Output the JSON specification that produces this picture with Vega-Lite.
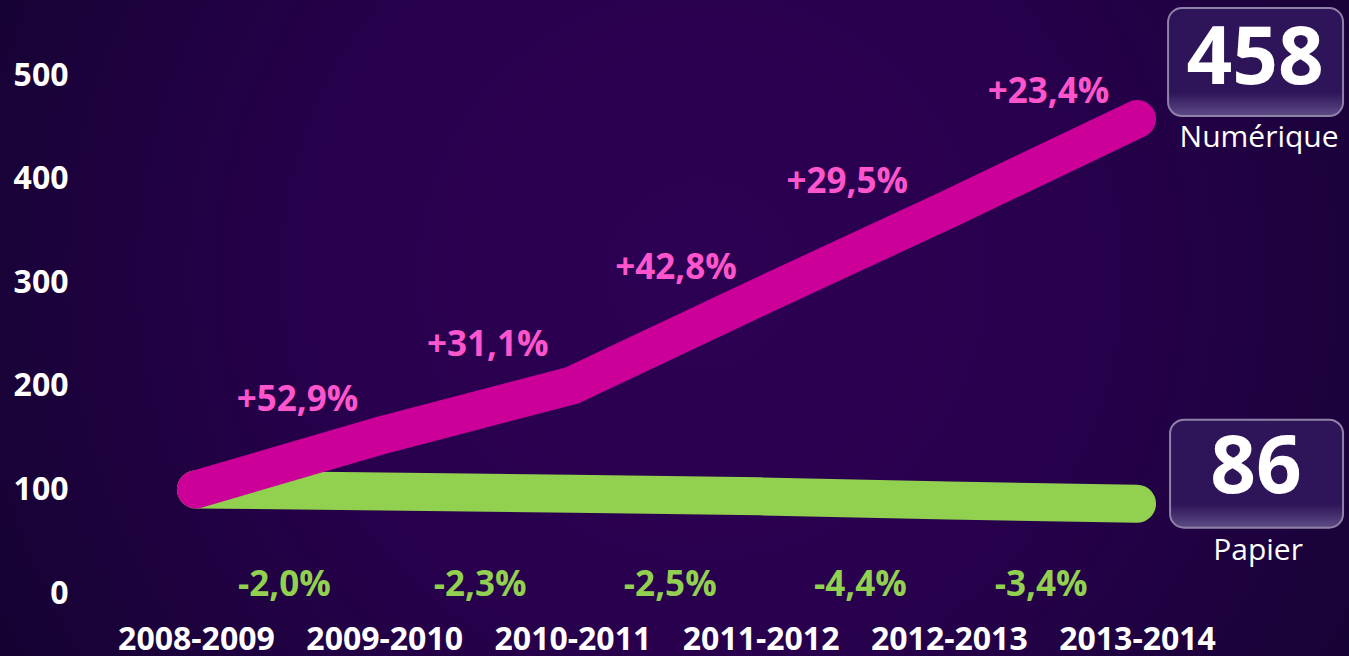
{
  "$schema": "https://vega.github.io/schema/vega-lite/v6.json",
  "width": 1349,
  "height": 656,
  "autosize": {"type": "none"},
  "padding": 0,
  "background": "#130330",
  "config": {
    "view": {
      "stroke": null,
      "fill": {
        "gradient": "radial",
        "x1": 0.52, "y1": 0.46, "r1": 0,
        "x2": 0.52, "y2": 0.46, "r2": 0.62,
        "stops": [
          {"offset": 0, "color": "#2d0053"},
          {"offset": 0.45, "color": "#28004d"},
          {"offset": 1, "color": "#130330"}
        ]
      }
    },
    "text": {"font": "Open Sans"},
    "axis": {"labelFont": "Open Sans"}
  },
  "datasets": {
    "lines": [
      {"i": 0, "year": "2008-2009", "series": "Papier", "value": 100},
      {"i": 1, "year": "2009-2010", "series": "Papier", "value": 98.0},
      {"i": 2, "year": "2010-2011", "series": "Papier", "value": 95.7},
      {"i": 3, "year": "2011-2012", "series": "Papier", "value": 93.3},
      {"i": 4, "year": "2012-2013", "series": "Papier", "value": 89.2},
      {"i": 5, "year": "2013-2014", "series": "Papier", "value": 86.2},
      {"i": 0, "year": "2008-2009", "series": "Numérique", "value": 100},
      {"i": 1, "year": "2009-2010", "series": "Numérique", "value": 152.9},
      {"i": 2, "year": "2010-2011", "series": "Numérique", "value": 200.5},
      {"i": 3, "year": "2011-2012", "series": "Numérique", "value": 286.3},
      {"i": 4, "year": "2012-2013", "series": "Numérique", "value": 370.7},
      {"i": 5, "year": "2013-2014", "series": "Numérique", "value": 457.5}
    ],
    "growth": [
      {"series": "Numérique", "x": 0.54, "y": 186, "label": "+52,9%"},
      {"series": "Numérique", "x": 1.55, "y": 239, "label": "+31,1%"},
      {"series": "Numérique", "x": 2.55, "y": 314, "label": "+42,8%"},
      {"series": "Numérique", "x": 3.46, "y": 397, "label": "+29,5%"},
      {"series": "Numérique", "x": 4.53, "y": 484, "label": "+23,4%"},
      {"series": "Papier", "x": 0.47, "y": 8, "label": "-2,0%"},
      {"series": "Papier", "x": 1.51, "y": 8, "label": "-2,3%"},
      {"series": "Papier", "x": 2.52, "y": 8, "label": "-2,5%"},
      {"series": "Papier", "x": 3.53, "y": 8, "label": "-4,4%"},
      {"series": "Papier", "x": 4.49, "y": 8, "label": "-3,4%"}
    ],
    "ends": [
      {"i": 5, "series": "Numérique", "value": 457.5, "total": "458"},
      {"i": 5, "series": "Papier", "value": 86.2, "total": "86"}
    ]
  },
  "layer": [
    {
      "data": {"name": "lines"},
      "transform": [{"filter": "datum.series === 'Papier'"}],
      "mark": {"type": "line", "color": "#92d050", "strokeWidth": 38, "strokeCap": "round", "strokeJoin": "round"},
      "encoding": {
        "x": {
          "field": "i", "type": "quantitative",
          "scale": {"domain": [-1.041, 6.126], "nice": false, "zero": false},
          "axis": {
            "orient": "bottom", "offset": -17, "values": [0, 1, 2, 3, 4, 5],
            "labelExpr": "['2008-2009','2009-2010','2010-2011','2011-2012','2012-2013','2013-2014'][datum.value]",
            "domain": false, "ticks": false, "grid": false, "title": null,
            "labelPadding": 0, "labelBaseline": "middle",
            "labelFontSize": 32, "labelFontWeight": "bold", "labelColor": "#ffffff",
            "labelOverlap": false, "labelFlush": false, "labelBound": false
          }
        },
        "y": {
          "field": "value", "type": "quantitative",
          "scale": {"domain": [-60.8, 572.4], "nice": false, "zero": false},
          "axis": {
            "orient": "left", "offset": -68, "values": [0, 100, 200, 300, 400, 500],
            "domain": false, "ticks": false, "grid": false, "title": null,
            "labelPadding": 0, "labelAlign": "right", "labelBaseline": "middle",
            "labelFontSize": 32, "labelFontWeight": "bold", "labelColor": "#ffffff",
            "labelOverlap": false, "labelFlush": false, "labelBound": false
          }
        }
      }
    },
    {
      "data": {"name": "lines"},
      "transform": [{"filter": "datum.series === 'Numérique'"}],
      "mark": {"type": "line", "color": "#cc0099", "strokeWidth": 38, "strokeCap": "round", "strokeJoin": "round"},
      "encoding": {
        "x": {"field": "i", "type": "quantitative"},
        "y": {"field": "value", "type": "quantitative"}
      }
    },
    {
      "data": {"name": "growth"},
      "mark": {"type": "text", "fontSize": 35, "fontWeight": "bold", "align": "center", "baseline": "middle"},
      "encoding": {
        "x": {"field": "x", "type": "quantitative"},
        "y": {"field": "y", "type": "quantitative"},
        "text": {"field": "label"},
        "color": {
          "field": "series", "type": "nominal", "legend": null,
          "scale": {"domain": ["Numérique", "Papier"], "range": ["#ff55cc", "#92d050"]}
        }
      }
    },
    {
      "data": {"name": "ends"},
      "transform": [{"filter": "datum.series === 'Numérique'"}],
      "mark": {
        "type": "rect", "cornerRadius": 14,
        "xOffset": 31, "x2Offset": 206, "yOffset": -111, "y2Offset": -3,
        "stroke": "#8e82a8", "strokeWidth": 2,
        "fill": {"gradient": "linear", "x1": 0, "y1": 0, "x2": 0, "y2": 1,
          "stops": [{"offset": 0, "color": "#2e1458"}, {"offset": 0.78, "color": "#2e1458"}, {"offset": 1, "color": "#5e4c86"}]}
      },
      "encoding": {
        "x": {"field": "i", "type": "quantitative"},
        "x2": {"field": "i"},
        "y": {"field": "value", "type": "quantitative"},
        "y2": {"field": "value"}
      }
    },
    {
      "data": {"name": "ends"},
      "transform": [{"filter": "datum.series === 'Papier'"}],
      "mark": {
        "type": "rect", "cornerRadius": 14,
        "xOffset": 33, "x2Offset": 206, "yOffset": -84, "y2Offset": 24,
        "stroke": "#8e82a8", "strokeWidth": 2,
        "fill": {"gradient": "linear", "x1": 0, "y1": 0, "x2": 0, "y2": 1,
          "stops": [{"offset": 0, "color": "#2e1458"}, {"offset": 0.78, "color": "#2e1458"}, {"offset": 1, "color": "#5e4c86"}]}
      },
      "encoding": {
        "x": {"field": "i", "type": "quantitative"},
        "x2": {"field": "i"},
        "y": {"field": "value", "type": "quantitative"},
        "y2": {"field": "value"}
      }
    },
    {
      "data": {"name": "ends"},
      "transform": [{"filter": "datum.series === 'Numérique'"}],
      "mark": {"type": "text", "fontSize": 80, "fontWeight": "bold", "color": "#ffffff", "align": "center", "baseline": "middle", "dx": 118, "dy": -59},
      "encoding": {
        "x": {"field": "i", "type": "quantitative"},
        "y": {"field": "value", "type": "quantitative"},
        "text": {"field": "total"}
      }
    },
    {
      "data": {"name": "ends"},
      "transform": [{"filter": "datum.series === 'Papier'"}],
      "mark": {"type": "text", "fontSize": 80, "fontWeight": "bold", "color": "#ffffff", "align": "center", "baseline": "middle", "dx": 119, "dy": -35},
      "encoding": {
        "x": {"field": "i", "type": "quantitative"},
        "y": {"field": "value", "type": "quantitative"},
        "text": {"field": "total"}
      }
    },
    {
      "data": {"name": "ends"},
      "transform": [{"filter": "datum.series === 'Numérique'"}],
      "mark": {"type": "text", "fontSize": 30, "color": "#ffffff", "align": "center", "baseline": "middle", "dx": 122, "dy": 19},
      "encoding": {
        "x": {"field": "i", "type": "quantitative"},
        "y": {"field": "value", "type": "quantitative"},
        "text": {"field": "series"}
      }
    },
    {
      "data": {"name": "ends"},
      "transform": [{"filter": "datum.series === 'Papier'"}],
      "mark": {"type": "text", "fontSize": 30, "color": "#ffffff", "align": "center", "baseline": "middle", "dx": 121, "dy": 47},
      "encoding": {
        "x": {"field": "i", "type": "quantitative"},
        "y": {"field": "value", "type": "quantitative"},
        "text": {"field": "series"}
      }
    }
  ]
}
